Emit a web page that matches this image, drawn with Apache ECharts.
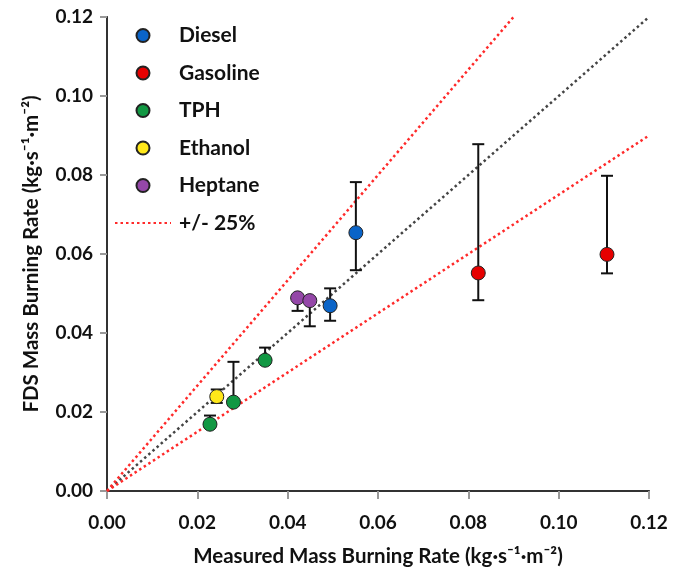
<!DOCTYPE html>
<html>
<head>
<meta charset="utf-8">
<script src="https://cdn.jsdelivr.net/npm/echarts@6/dist/echarts.min.js"></script>
<style>html,body{margin:0;padding:0;background:#fff;}#c{width:685px;height:575px;}</style>
</head>
<body>
<div id="c"></div>
<script>
// ---- data: [measured, FDS] ----
const diesel   = [[0.0551, 0.0654], [0.0494, 0.0469]];
const gasoline = [[0.0822, 0.0552], [0.1107, 0.0599]];
const tph      = [[0.0228, 0.0169], [0.0280, 0.0225], [0.0350, 0.0331]];
const ethanol  = [[0.0243, 0.0239]];
const heptane  = [[0.0422, 0.0489], [0.0449, 0.0482]];
// error bars: [measured, low, high]
const errorBars = [
  [0.0551, 0.0559, 0.0782], [0.0494, 0.0431, 0.0513],
  [0.0822, 0.0483, 0.0878], [0.1107, 0.0551, 0.0798],
  [0.0228, 0.0162, 0.0191], [0.0280, 0.0220, 0.0327], [0.0350, 0.0325, 0.0363],
  [0.0243, 0.0223, 0.0257],
  [0.0422, 0.0456, 0.0495], [0.0449, 0.0417, 0.0488]
];
const oneToOne  = [[0, 0], [0.12, 0.12]];
const upper25   = [[0, 0], [0.09, 0.12]];
const lower25   = [[0, 0], [0.12, 0.09]];
const axisMin = 0, axisMax = 0.12, axisStep = 0.02;
const legendNames = ['Diesel', 'Gasoline', 'TPH', 'Ethanol', 'Heptane', '+/- 25%'];
const xTitle = 'Measured Mass Burning Rate (kg·s⁻¹·m⁻²)';
const yTitle = 'FDS Mass Burning Rate (kg·s⁻¹·m⁻²)';

const FONT = 'Lato';
const TXT = '#111';
const chart = echarts.init(document.getElementById('c'), null, {renderer: 'canvas'});

function scatter(name, data, color) {
  return {
    name, type: 'scatter', data, symbol: 'circle', symbolSize: 14, z: 5,
    itemStyle: {color, borderColor: '#222', borderWidth: 1, opacity: 1},
    emphasis: {disabled: true}
  };
}

const baseAxis = {
  type: 'value', min: axisMin, max: axisMax, interval: axisStep
};

chart.setOption({
  animation: false,
  grid: {left: 107, top: 17, right: 36, bottom: 84, containLabel: false},
  legend: {
    data: legendNames.map(n => n === '+/- 25%' ? {name: n, itemStyle: {opacity: 0}} : n),
    orient: 'vertical',
    left: 109, top: 20,
    itemWidth: 56, itemHeight: 13, itemGap: 16.5,
    selectedMode: false,
    textStyle: {fontFamily: FONT, fontWeight: 'bold', fontSize: 21, color: TXT, padding: [0, 0, 0, 3]}
  },
  xAxis: [
    Object.assign({}, baseAxis, {
      position: 'bottom',
      name: xTitle, nameLocation: 'middle', nameGap: 55,
      nameTextStyle: {fontFamily: FONT, fontWeight: 'bold', fontSize: 20.5, color: TXT},
      axisLine: {show: true, lineStyle: {color: '#999', width: 2}},
      axisTick: {show: true, inside: false, length: 8, lineStyle: {color: '#999', width: 2}},
      axisLabel: {margin: 22, fontFamily: FONT, fontWeight: 'bold', fontSize: 19, color: TXT,
                  formatter: v => v.toFixed(2)},
      splitLine: {show: false}
    }),
    Object.assign({}, baseAxis, {
      position: 'top',
      axisLine: {show: true, lineStyle: {color: '#333', width: 2}},
      axisTick: {show: false}, axisLabel: {show: false}, splitLine: {show: false}
    })
  ],
  yAxis: [
    Object.assign({}, baseAxis, {
      position: 'left',
      name: yTitle, nameLocation: 'middle', nameGap: 65, nameRotate: 90,
      nameTextStyle: {fontFamily: FONT, fontWeight: 'bold', fontSize: 20.5, color: TXT},
      axisLine: {show: true, lineStyle: {color: '#999', width: 2}},
      axisTick: {show: true, inside: false, length: 7, lineStyle: {color: '#999', width: 2}},
      axisLabel: {margin: 14, fontFamily: FONT, fontWeight: 'bold', fontSize: 19, color: TXT,
                  formatter: v => v.toFixed(2)},
      splitLine: {show: false}
    }),
    Object.assign({}, baseAxis, {
      position: 'right',
      axisLine: {show: true, lineStyle: {color: '#333', width: 2}},
      axisTick: {show: false}, axisLabel: {show: false}, splitLine: {show: false}
    })
  ],
  series: [
    {
      name: '1:1', type: 'line', data: oneToOne, symbol: 'none', z: 2,
      lineStyle: {color: '#444', width: 2.5, type: [2.5, 3]}, emphasis: {disabled: true}
    },
    {
      name: '+/- 25%', type: 'line', data: upper25, symbol: 'none', z: 2,
      itemStyle: {color: '#ff2a2a'},
      lineStyle: {color: '#ff2a2a', width: 2.5, type: [2.5, 3]}, emphasis: {disabled: true}
    },
    {
      name: '+/- 25%', type: 'line', data: lower25, symbol: 'none', z: 2,
      itemStyle: {color: '#ff2a2a'},
      lineStyle: {color: '#ff2a2a', width: 2.5, type: [2.5, 3]}, emphasis: {disabled: true}
    },
    {
      name: 'errors', type: 'custom', data: errorBars, z: 3,
      encode: {x: 0, y: [1, 2]},
      renderItem: function (params, api) {
        const x = api.value(0), lo = api.value(1), hi = api.value(2);
        const pHi = api.coord([x, hi]), pLo = api.coord([x, lo]);
        const w = 6;
        const st = {stroke: '#111', lineWidth: 2};
        return {type: 'group', children: [
          {type: 'line', shape: {x1: pHi[0], y1: pHi[1], x2: pLo[0], y2: pLo[1]}, style: st},
          {type: 'line', shape: {x1: pHi[0] - w, y1: pHi[1], x2: pHi[0] + w, y2: pHi[1]}, style: st},
          {type: 'line', shape: {x1: pLo[0] - w, y1: pLo[1], x2: pLo[0] + w, y2: pLo[1]}, style: st}
        ]};
      }
    },
    scatter('Diesel', diesel, '#0a64c8'),
    scatter('Gasoline', gasoline, '#e60000'),
    scatter('TPH', tph, '#129843'),
    scatter('Ethanol', ethanol, '#ffe81a'),
    scatter('Heptane', heptane, '#9447a8')
  ]
});
</script>
</body>
</html>
